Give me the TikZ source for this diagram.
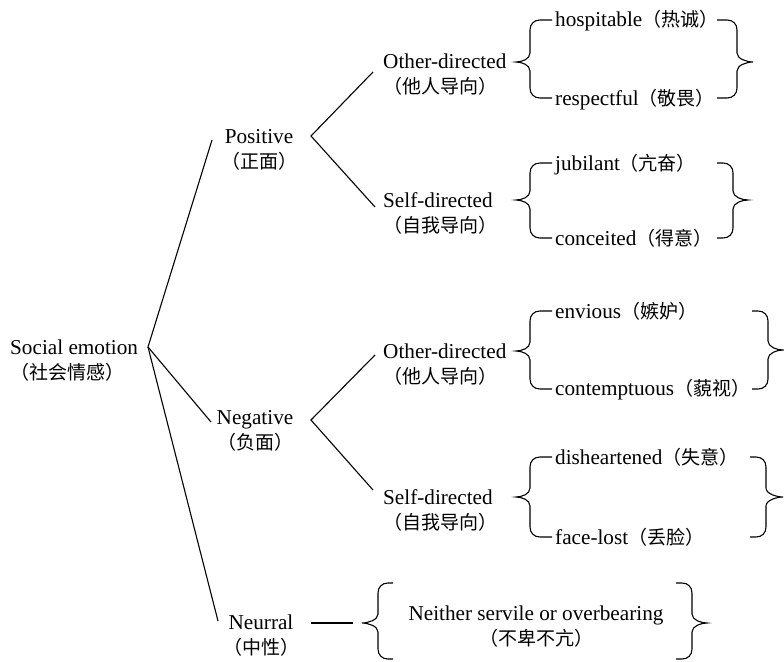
\documentclass[tikz,border=0pt]{standalone}
\usepackage{fontspec}
\setmainfont{Liberation Serif}
\newfontfamily\cjk{Noto Sans CJK SC}
\newcommand\zh[1]{{\cjk\fontsize{19}{25}\selectfont #1}}
\newcommand\mylbrace[6]{% tip, vertical, arm end, top, mid, bottom
  \draw[brc] (#3,#4) -- ({#2+10},#4) .. controls ({#2+4},#4) and (#2,{#4+4}) .. (#2,{#4+10})
    -- (#2,{#5-9}) .. controls (#2,{#5-3}) and ({#1+6},#5) .. (#1,#5)
    .. controls ({#1+6},#5) and (#2,{#5+3}) .. (#2,{#5+9})
    -- (#2,{#6-10}) .. controls (#2,{#6-4}) and ({#2+4},#6) .. ({#2+10},#6) -- (#3,#6);}
\newcommand\myrbrace[6]{% tip, vertical, arm start, top, mid, bottom
  \draw[brc] (#3,#4) -- ({#2-10},#4) .. controls ({#2-4},#4) and (#2,{#4+4}) .. (#2,{#4+10})
    -- (#2,{#5-9}) .. controls (#2,{#5-3}) and ({#1-6},#5) .. (#1,#5)
    .. controls ({#1-6},#5) and (#2,{#5+3}) .. (#2,{#5+9})
    -- (#2,{#6-10}) .. controls (#2,{#6-4}) and ({#2-4},#6) .. ({#2-10},#6) -- (#3,#6);}
\begin{document}
\begin{tikzpicture}[x=1pt,y=-1pt,
  txt/.style={inner sep=0pt,font=\fontsize{21.2}{25}\selectfont},
  two/.style={txt,align=left,anchor=west},
  twoc/.style={txt,align=center,anchor=center},
  leaf/.style={txt,anchor=base west},
  conn/.style={line width=1.1pt},
  brc/.style={line width=1.1pt}]
\useasboundingbox (0,0) rectangle (784,661);
\fill[white] (0,0) rectangle (784,661);

% category nodes
\node[two]  (root) at (10,361)  {Social emotion\\\zh{（社会情感）}};
\node[twoc] (pos)  at (259,150) {Positive\\\zh{（正面）}};
\node[twoc] (neg)  at (255,431) {Negative\\\zh{（负面）}};
\node[twoc] (neu)  at (261,636) {Neurral\\\zh{（中性）}};
\node[two]  (po)   at (383,75)  {Other-directed\\\zh{（他人导向）}};
\node[two]  (ps)   at (383,213) {Self-directed\\\zh{（自我导向）}};
\node[two]  (no)   at (383,365) {Other-directed\\\zh{（他人导向）}};
\node[two]  (ns)   at (383,510) {Self-directed\\\zh{（自我导向）}};

% leaves
\node[leaf] (l1) at (555,27)  {hospitable\zh{（热诚）}};
\node[leaf] (l2) at (555,105) {respectful\zh{（敬畏）}};
\node[leaf] (l3) at (555,170) {jubilant\zh{（亢奋）}};
\node[leaf] (l4) at (555,245) {conceited\zh{（得意）}};
\node[leaf] (l5) at (555,318) {envious\zh{（嫉妒）}};
\node[leaf] (l6) at (555,395) {contemptuous\zh{（藐视）}};
\node[leaf] (l7) at (555,464) {disheartened\zh{（失意）}};
\node[leaf] (l8) at (555,544) {face-lost\zh{（丢脸）}};
\node[twoc] (nsv) at (536,627) {Neither servile or overbearing\\\zh{（不卑不亢）}};

% connector points
\coordinate (rA) at (148,347);
\coordinate (pA) at (311,136);
\coordinate (nA) at (311,420);
\coordinate (pIn) at (212,140);
\coordinate (nIn) at (211,422);
\coordinate (uIn) at (218,621);
\coordinate (poIn) at (373,72);
\coordinate (psIn) at (375,207);
\coordinate (noIn) at (375,355);
\coordinate (nsIn) at (373,490);
\coordinate (uOut) at (311,623);
\coordinate (uEnd) at (353,623);

\draw[conn] (pIn) -- (rA) -- (nIn);
\draw[conn] (rA) -- (uIn);
\draw[conn] (poIn) -- (pA) -- (psIn);
\draw[conn] (noIn) -- (nA) -- (nsIn);
\draw[conn] (uOut) -- (uEnd);

% braces
\mylbrace{516}{530}{552}{20}{62}{98}
\mylbrace{516}{530}{552}{163}{200}{238}
\mylbrace{516}{530}{552}{311}{351}{389}
\mylbrace{516}{530}{552}{457}{497}{537}
\mylbrace{362}{378}{393}{583}{623}{659}
\myrbrace{753}{737}{717}{20}{62}{98}
\myrbrace{748}{733}{717}{163}{200}{238}
\myrbrace{783}{768}{752}{311}{350}{389}
\myrbrace{783}{766}{750}{457}{497}{537}
\myrbrace{707}{692}{676}{583}{623}{659}
\end{tikzpicture}
\end{document}
